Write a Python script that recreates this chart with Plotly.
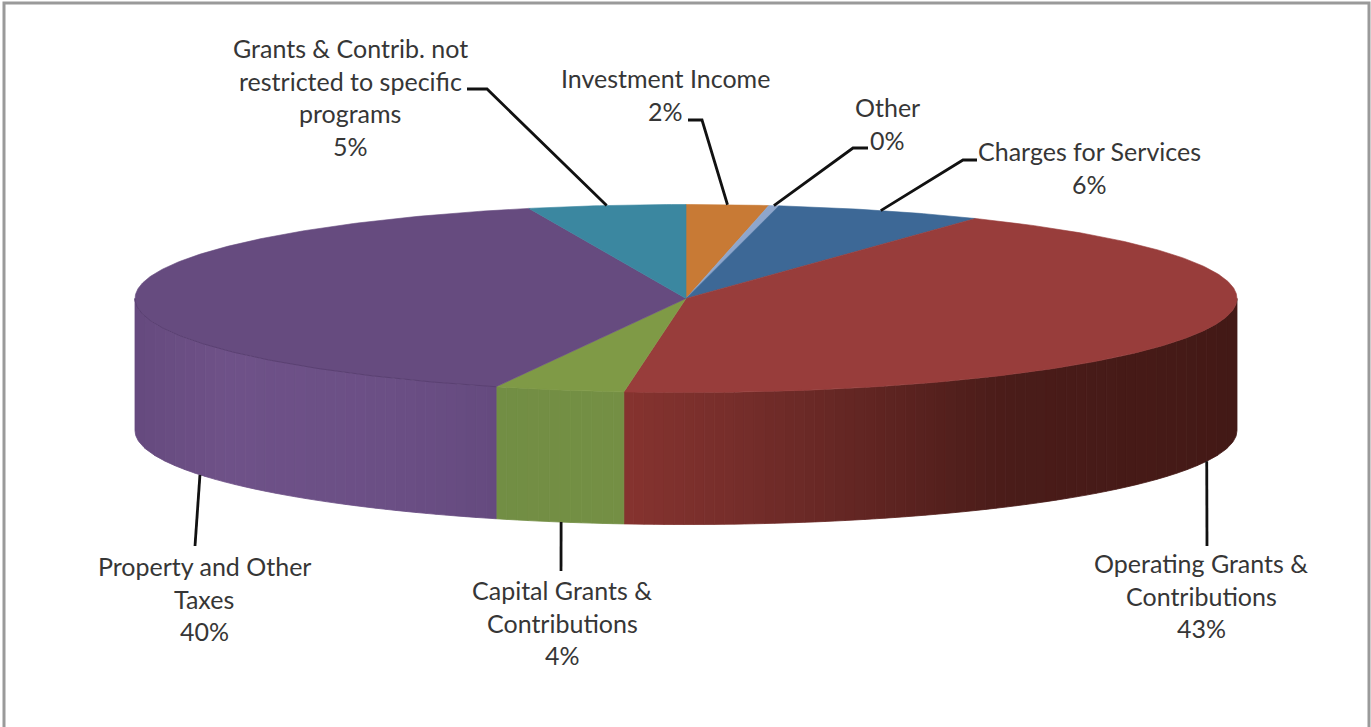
import math
import plotly.graph_objects as go

# Revenue shares, clockwise from twelve o'clock
categories = ["Investment Income", "Other", "Charges for Services",
              "Operating Grants & Contributions", "Capital Grants & Contributions",
              "Property and Other Taxes", "Grants & Contrib. not restricted to specific programs"]
shares = [2.4, 0.3, 6.1, 43.0, 3.8, 39.8, 4.6]

label_lines = [["Investment Income"], ["Other"], ["Charges for Services"],
               ["Operating Grants &", "Contributions"], ["Capital Grants &", "Contributions"],
               ["Property and Other", "Taxes"],
               ["Grants & Contrib. not", "restricted to specific", "programs"]]

# Styling and layout
top_colors = ["#c87a35", "#8ea6cc", "#3d6896", "#983d3b", "#7f9a46", "#664b7f", "#3b87a0"]
side_stops = {
    3: [(0.0, "#86332f"), (0.2, "#742d2a"), (0.45, "#5c2320"), (0.62, "#4a1c19"), (1.0, "#431916")],
    4: [(0.0, "#728e44"), (1.0, "#748f44")],
    5: [(0.0, "#664a7e"), (0.25, "#6e5188"), (0.7, "#6b4f85"), (1.0, "#654a7f")],
}
CX, CY, RX, RY, DEPTH = 686, 298.5, 551, 94, 132
BAND_PX = 10
label_x = [665, 887, 1089, 1201, 562, 204, 350]
label_y = [78, 107, 151, 563, 590, 566, 48]
LINE_GAP = 32.5
elbows = [[(702, 120), (688, 120)], [(853, 148), (868, 148)], [(963, 160), (977, 160)],
          [(1207, 546)], [(561, 571)], [(195, 546)], [(487, 89), (467, 89)]]
leader_angle_override = {4: 193.1, 5: 241.9}


def rim(angle, drop=0.0):
    rad = math.radians(angle)
    return CX + RX * math.sin(rad), CY - RY * math.cos(rad) + drop


def arc(a0, a1, drop=0.0):
    n = max(2, int(abs(a1 - a0) * 2) + 1)
    return [rim(a0 + (a1 - a0) * i / (n - 1), drop) for i in range(n)]


def front_angle(x):
    # Angle on the near half of the rim for a given horizontal position
    return 180.0 - math.degrees(math.asin(max(-1.0, min(1.0, (x - CX) / RX))))


def mix(stops, f):
    for (f0, c0), (f1, c1) in zip(stops, stops[1:]):
        if f <= f1:
            t = (f - f0) / (f1 - f0) if f1 > f0 else 0
            rgb0 = [int(c0[i:i + 2], 16) for i in (1, 3, 5)]
            rgb1 = [int(c1[i:i + 2], 16) for i in (1, 3, 5)]
            return "#%02x%02x%02x" % tuple(round(a + (b - a) * t) for a, b in zip(rgb0, rgb1))
    return stops[-1][1]


def polygon(points, color, width=0.8):
    xs, ys = zip(*points)
    return go.Scatter(x=list(xs) + [xs[0]], y=list(ys) + [ys[0]], mode="lines", fill="toself",
                      fillcolor=color, line=dict(color=color, width=width),
                      hoverinfo="skip", showlegend=False)


total = sum(shares)
bounds = [0.0]
for v in shares:
    bounds.append(bounds[-1] + 360.0 * v / total)

fig = go.Figure()

# Front wall: equal-width vertical bands give the shaded cylinder look, left to right
for i, stops in side_stops.items():
    a0, a1 = max(bounds[i], 90.0), min(bounds[i + 1], 270.0)
    if a1 <= a0:
        continue
    xa, xb = rim(a0)[0], rim(a1)[0]
    x_left, x_right = min(xa, xb), max(xa, xb)
    bands = max(4, int((x_right - x_left) / BAND_PX))
    for b in range(bands):
        p0 = x_left + (x_right - x_left) * b / bands
        p1 = x_left + (x_right - x_left) * (b + 1) / bands
        s0, s1 = front_angle(p0), front_angle(p1)
        pts = arc(s0, s1) + arc(s1, s0, DEPTH)
        fig.add_trace(polygon(pts, mix(stops, (b + 0.5) / bands)))

# Top face wedges
for i, color in enumerate(top_colors):
    fig.add_trace(polygon([(CX, CY)] + arc(bounds[i], bounds[i + 1]), color, 0.6))

# Soft crease along the front rim of the purple wedge
crease = arc(bounds[5], 270.0)
fig.add_trace(go.Scatter(x=[p[0] for p in crease], y=[p[1] for p in crease], mode="lines",
                         line=dict(color="#5a4072", width=1), hoverinfo="skip", showlegend=False))

# Leader lines run from each wedge's rim out to its label
for i, bend in enumerate(elbows):
    angle = leader_angle_override.get(i, (bounds[i] + bounds[i + 1]) / 2)
    start = rim(angle, DEPTH if 90 < angle < 270 else 0.0)
    pts = [start] + bend
    fig.add_trace(go.Scatter(x=[p[0] for p in pts], y=[p[1] for p in pts], mode="lines",
                             line=dict(color="#111111", width=2.8), hoverinfo="skip", showlegend=False))

# Category names with the rounded percentage below them
annotations = []
for i, lines in enumerate(label_lines):
    rows = lines + [f"{round(shares[i])}%"]
    for r, text in enumerate(rows):
        annotations.append(dict(x=label_x[i], y=label_y[i] + r * LINE_GAP, xref="x", yref="y",
                                text=text.replace("&", "&amp;"), showarrow=False, xanchor="center",
                                yanchor="middle", font=dict(family="Lato", size=25, color="#363636")))

# Grey frame, open along the bottom edge
frame = [(4, 727), (4, 3), (1369, 3), (1369, 727)]
fig.add_trace(go.Scatter(x=[p[0] for p in frame], y=[p[1] for p in frame], mode="lines",
                         line=dict(color="#9a9a9a", width=3), hoverinfo="skip", showlegend=False))

fig.update_layout(
    width=1371, height=727, margin=dict(l=0, r=0, t=0, b=0),
    paper_bgcolor="white", plot_bgcolor="white", showlegend=False, annotations=annotations,
    xaxis=dict(range=[0, 1371], visible=False, fixedrange=True),
    yaxis=dict(range=[727, 0], visible=False, fixedrange=True),
)
fig.write_html("out.html", config={"displayModeBar": False})
